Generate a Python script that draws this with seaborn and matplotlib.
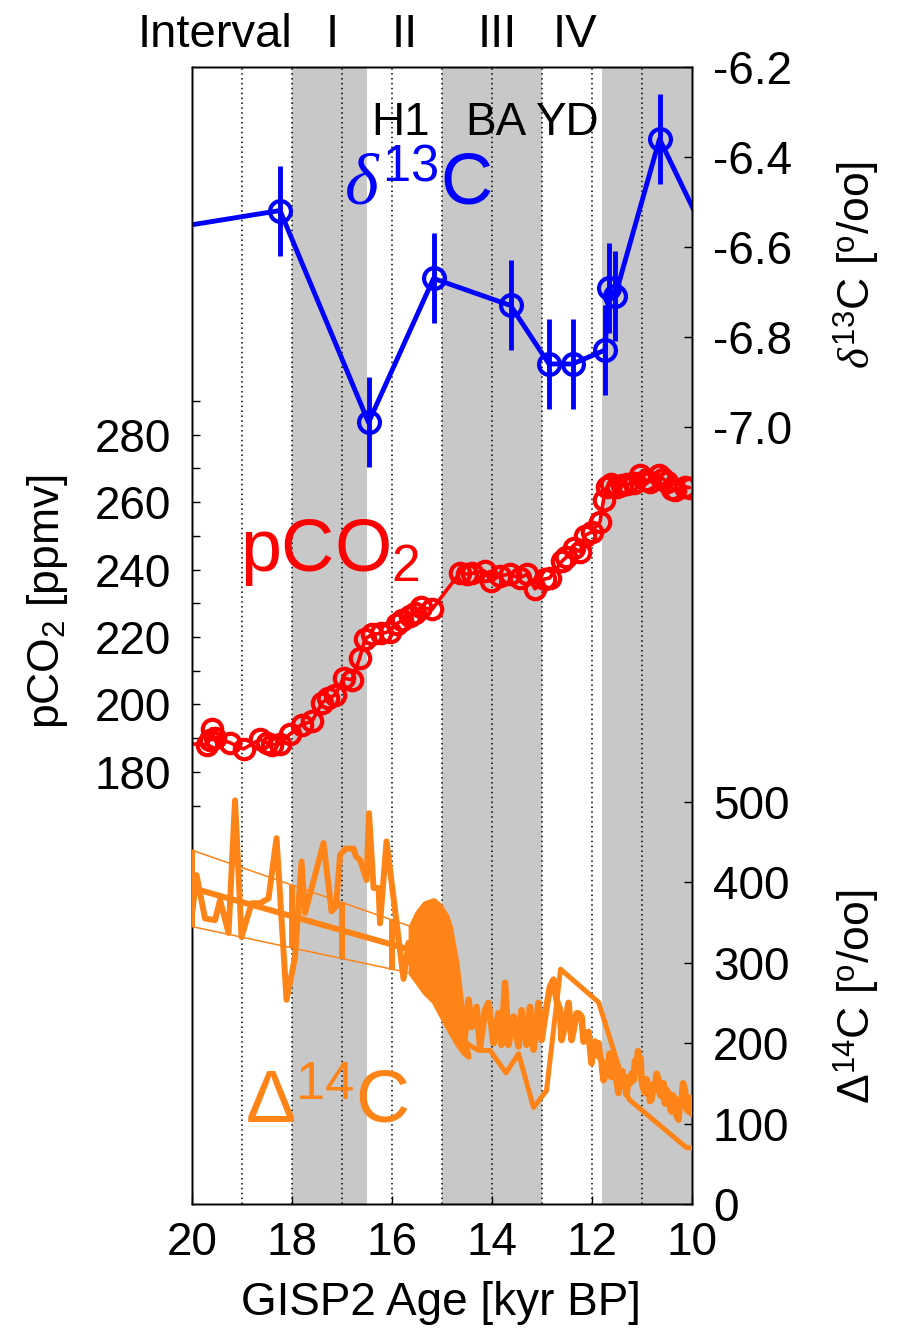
import matplotlib
matplotlib.use("Agg")
import matplotlib.pyplot as plt
import matplotlib.transforms as mtransforms
import seaborn as sns

# ---------------- data ----------------
# delta13C of atmospheric CO2 (permil) with 1-sigma error
d13c_age = [20.8, 18.24, 16.47, 15.17, 13.63, 12.86, 12.39, 11.74, 11.66, 11.54, 10.65, 9.5]
d13c_val = [-6.565, -6.519, -6.99, -6.67, -6.73, -6.86, -6.86, -6.829, -6.692, -6.71, -6.36, -6.625]
d13c_err = [0.1, 0.1, 0.1, 0.1, 0.1, 0.1, 0.1, 0.1, 0.1, 0.1, 0.1, 0.1]

# atmospheric CO2 (ppmv)
co2_age = [20.3, 19.71, 19.65, 19.61, 19.55, 19.25, 18.97, 18.64, 18.50, 18.40, 18.24,
           18.04, 17.81, 17.60, 17.40, 17.28, 17.14, 16.97, 16.80, 16.65, 16.54, 16.40,
           16.22, 16.05, 15.90, 15.80, 15.65, 15.55, 15.42, 15.20, 14.64, 14.50, 14.40,
           14.15, 14.02, 13.85, 13.65, 13.45, 13.30, 13.14, 12.95, 12.85, 12.60, 12.52,
           12.37, 12.24, 12.14, 12.01, 11.84, 11.77, 11.70, 11.62, 11.51, 11.40, 11.30,
           11.17, 11.04, 10.92, 10.84, 10.67, 10.58, 10.51, 10.40, 10.34, 10.14, 10.05]
co2_val = [188.6, 188.0, 189.5, 192.8, 190.0, 188.7, 186.8, 189.6, 188.6, 188.0, 188.3,
           191.2, 194.0, 195.0, 200.5, 201.8, 202.8, 207.8, 207.3, 213.7, 219.4, 220.8,
           221.1, 221.6, 224.0, 225.0, 226.1, 227.0, 228.8, 228.2, 239.1, 238.7, 238.9,
           239.6, 236.5, 238.2, 238.6, 237.5, 238.6, 234.3, 237.2, 237.5, 242.5, 243.6,
           246.4, 245.3, 250.1, 251.2, 254.2, 260.7, 264.5, 265.3, 264.6, 265.0, 265.3,
           265.6, 268.1, 266.5, 266.1, 268.1, 267.0, 266.1, 264.0, 263.6, 264.6, 264.3]

# Delta14C, older low-resolution record (permil)
dc14_a_age = [20.00, 19.91, 19.74, 19.54, 19.44, 19.27, 19.14, 19.01, 18.81, 18.64, 18.47,
              18.31, 18.11, 17.94, 17.81, 17.74, 17.37, 17.21, 17.12, 17.04, 16.93, 16.77,
              16.72, 16.64, 16.51, 16.46, 16.37, 16.27, 16.24, 16.11, 15.77, 15.67, 15.62]
dc14_a_val = [360, 409, 355, 353, 378, 337, 502, 332, 374, 374, 380,
              455, 254, 307, 426, 362, 449, 364, 370, 434, 442, 442,
              432, 428, 403, 486, 393, 393, 349, 451, 280, 325, 300]

# linear trend through the older record with its envelope
trend_age = [20.0, 15.62]
trend_mid = [393, 316]
trend_hi = [440, 345]
trend_lo = [345, 287]
trend_bar_age = [20.0, 18.0, 17.0, 16.0]
trend_bar_hi = [440, 397, 375, 353]
trend_bar_lo = [345, 318, 305, 291]

# modelled Delta14C drop across the deglaciation (uncertainty band)
band_age = [15.63, 15.50, 15.35, 15.17, 15.05, 14.91, 14.84, 14.71, 14.61, 14.54, 14.47]
band_hi = [345, 362, 374, 378, 372, 358, 345, 300, 248, 206, 184]
band_lo = [287, 276, 263, 252, 238, 222, 214, 200, 191, 186, 183]

# high-resolution Delta14C record
dc14_b_age = [14.55, 14.47, 14.41, 14.31, 14.24, 14.14, 14.07, 13.97, 13.87, 13.81, 13.74,
              13.67, 13.57, 13.47, 13.41, 13.31, 13.24, 13.17, 13.07, 13.01, 12.91, 12.84,
              12.77, 12.71, 12.64, 12.61, 12.54, 12.47, 12.41, 12.37, 12.31, 12.27, 12.21,
              12.17, 12.07, 12.01, 11.98, 11.94, 11.91, 11.87, 11.84, 11.81, 11.79, 11.77,
              11.74, 11.71, 11.68, 11.65, 11.63, 11.61, 11.57, 11.54, 11.50, 11.47, 11.45,
              11.42, 11.39, 11.37, 11.34, 11.31, 11.28, 11.24, 11.21, 11.17, 11.14, 11.11,
              11.08, 11.05, 11.03, 11.01, 10.98, 10.94, 10.91, 10.87, 10.84, 10.81, 10.78,
              10.74, 10.71, 10.67, 10.64, 10.61, 10.57, 10.54, 10.51, 10.47, 10.44, 10.41,
              10.38, 10.34, 10.31, 10.27, 10.24, 10.21, 10.18, 10.14, 10.11, 10.07, 10.04,
              10.00]
dc14_b_val = [205, 254, 220, 245, 196, 241, 250, 200, 237, 198, 275,
              198, 233, 196, 241, 198, 245, 192, 250, 204, 245, 270,
              279, 254, 241, 204, 222, 250, 204, 216, 237, 237, 233,
              202, 214, 175, 195, 202, 185, 200, 182, 179, 165, 154,
              172, 171, 160, 187, 170, 158, 175, 166, 150, 138, 160,
              148, 165, 146, 158, 136, 152, 150, 162, 154, 178, 166,
              190, 170, 181, 154, 145, 138, 155, 146, 128, 130, 148,
              142, 162, 154, 136, 134, 150, 125, 142, 138, 120, 115,
              135, 128, 110, 105, 130, 125, 150, 140, 118, 115, 132,
              112]

# coarse Delta14C record
dc14_c_age = [14.52, 14.27, 14.04, 13.72, 13.47, 13.17, 12.91, 12.63, 11.87, 11.26, 10.11, 10.00]
dc14_c_val = [200, 191, 191, 163, 187, 120, 141, 292, 251, 130, 70, 70]

# climate intervals (kyr BP)
shade_spans = [(18.0, 16.5), (15.0, 13.0), (11.8, 10.0)]
grid_ages = [19, 18, 17, 16, 15, 14, 13, 12, 11]
interval_labels = ["Interval", "I", "II", "III", "IV"]
interval_pos = [19.54, 17.2, 15.74, 13.9, 12.34]
event_labels = ["H1", "BA", "YD"]
event_pos = [15.82, 13.92, 12.5]

x_ticks = [20, 18, 16, 14, 12, 10]
co2_ticks = [180, 200, 220, 240, 260, 280]
co2_minor = [170, 190, 210, 230, 250, 270, 290]
d13c_ticks = [-6.2, -6.4, -6.6, -6.8, -7.0]
dc14_ticks = [0, 100, 200, 300, 400, 500]

# ---------------- style ----------------
sns.set_style("white")
plt.rcParams["font.family"] = ["Liberation Sans", "DejaVu Sans"]
plt.rcParams["mathtext.fontset"] = "custom"
plt.rcParams["mathtext.rm"] = "Liberation Sans"
plt.rcParams["mathtext.sf"] = "Liberation Sans"
plt.rcParams["mathtext.it"] = "Liberation Serif:italic"
plt.rcParams["axes.unicode_minus"] = False
plt.rcParams["text.color"] = "black"
plt.rcParams["axes.labelcolor"] = "black"
plt.rcParams["xtick.color"] = "black"
plt.rcParams["ytick.color"] = "black"

BLUE = "#0000FF"
RED = "#FF0000"
ORANGE = "#FF8417"
GRAY = "#C8C8C8"
TICK_FS = 33
LABEL_FS = 32

fig = plt.figure(figsize=(8.99, 13.32), dpi=100)
ax = fig.add_axes([0.2136, 0.0961, 0.55617, 0.8536])
ax_d = ax.twinx()
ax_r = ax.twinx()

# background shading and dotted grid
for a0, a1 in shade_spans:
    ax.axvspan(a0, a1, color=GRAY, lw=0, zorder=0)
for g in grid_ages:
    ax.axvline(g, color="black", ls=(0, (1, 2.2)), lw=1.1, zorder=1)

# pCO2
sns.lineplot(x=co2_age, y=co2_val, ax=ax, sort=False, estimator=None, errorbar=None,
             color=RED, lw=2.6, marker="o", markersize=14, markerfacecolor="none",
             markeredgecolor=RED, markeredgewidth=3.0, zorder=3)

# delta13C
ax_d.errorbar(d13c_age, d13c_val, yerr=d13c_err, fmt="none", ecolor=BLUE,
              elinewidth=3.5, capsize=0, zorder=3)
sns.lineplot(x=d13c_age, y=d13c_val, ax=ax_d, sort=False, estimator=None, errorbar=None,
             color=BLUE, lw=3.5, marker="o", markersize=15, markerfacecolor="none",
             markeredgecolor=BLUE, markeredgewidth=3.0, zorder=4)

# Delta14C
sns.lineplot(x=dc14_a_age, y=dc14_a_val, ax=ax_r, sort=False, estimator=None,
             errorbar=None, color=ORANGE, lw=4.3, zorder=3)
sns.lineplot(x=trend_age, y=trend_mid, ax=ax_r, sort=False, estimator=None,
             errorbar=None, color=ORANGE, lw=4.3, zorder=3)
sns.lineplot(x=trend_age, y=trend_hi, ax=ax_r, sort=False, estimator=None,
             errorbar=None, color=ORANGE, lw=1.1, zorder=3)
sns.lineplot(x=trend_age, y=trend_lo, ax=ax_r, sort=False, estimator=None,
             errorbar=None, color=ORANGE, lw=1.1, zorder=3)
ax_r.vlines(trend_bar_age, trend_bar_lo, trend_bar_hi, color=ORANGE, lw=4.3, zorder=3)
ax_r.fill_between(band_age, band_lo, band_hi, color=ORANGE, lw=3.5, edgecolor=ORANGE,
                  zorder=3)
sns.lineplot(x=dc14_b_age, y=dc14_b_val, ax=ax_r, sort=False, estimator=None,
             errorbar=None, color=ORANGE, lw=4.8, zorder=3)
sns.lineplot(x=dc14_c_age, y=dc14_c_val, ax=ax_r, sort=False, estimator=None,
             errorbar=None, color=ORANGE, lw=3.6, zorder=3)

# ---------------- axes ----------------
ax.set_xlim(20, 10)
ax.set_ylim(51.8, 389.1)
ax_d.set_ylim(-8.727, -6.2)
ax_r.set_ylim(0, 1414)

ax.set_xticks(x_ticks)
ax.set_xticklabels([str(t) for t in x_ticks])
ax.set_yticks(co2_ticks)
ax.set_yticklabels([str(t) for t in co2_ticks])
ax.set_yticks(co2_minor, minor=True)
ax_d.set_yticks(d13c_ticks)
ax_d.set_yticklabels(["%.1f" % t for t in d13c_ticks])
ax_r.set_yticks(dc14_ticks)
ax_r.set_yticklabels([str(t) for t in dc14_ticks])

ax.yaxis.set_ticks_position("left")
ax.xaxis.set_ticks_position("bottom")
for a in (ax, ax_d, ax_r):
    a.set_xlabel("")
    a.set_ylabel("")
    a.tick_params(axis="both", which="both", direction="in", length=6, width=1,
                  labelsize=TICK_FS, pad=15, colors="black")
    for s in a.spines.values():
        s.set_color("black")
        s.set_linewidth(1.0)
ax.tick_params(axis="x", pad=12)

# axis titles
fig.text(0.053, 0.548, r"pCO$_2$ [ppmv]", rotation=90, ha="center", va="center",
         fontsize=LABEL_FS, color="black")
fig.text(0.953, 0.801, r"$\delta^{13}$C [$^{\mathrm{o}}$/oo]", rotation=90,
         ha="center", va="center", fontsize=LABEL_FS, color="black")
fig.text(0.953, 0.2515, r"$\Delta^{14}$C [$^{\mathrm{o}}$/oo]", rotation=90,
         ha="center", va="center", fontsize=LABEL_FS, color="black")
fig.text(0.491, 0.0215, "GISP2 Age [kyr BP]", ha="center", va="center", fontsize=33,
         color="black")

# interval and event names
trans = mtransforms.blended_transform_factory(ax.transData, ax.transAxes)
for lab, pos in zip(interval_labels, interval_pos):
    ax.text(pos, 1.0176, lab, transform=trans, ha="center", va="baseline",
            fontsize=34, clip_on=False, color="black")
for lab, pos in zip(event_labels, event_pos):
    ax.text(pos, 0.940, lab, transform=trans, ha="center", va="baseline",
            fontsize=33, zorder=5, color="black")

# series names
ax.text(16.96, 0.8786, r"$\delta^{13}$C", transform=trans, ha="left", va="baseline",
        fontsize=52, color=BLUE, zorder=5)
ax.text(19.04, 0.5567, r"pCO$_2$", transform=trans, ha="left", va="baseline",
        fontsize=53, color=RED, zorder=5)
ax.text(18.94, 0.0712, r"$\Delta^{14}$C", transform=trans, ha="left", va="baseline",
        fontsize=54, color=ORANGE, zorder=5)

fig.savefig("out.png", dpi=100)
